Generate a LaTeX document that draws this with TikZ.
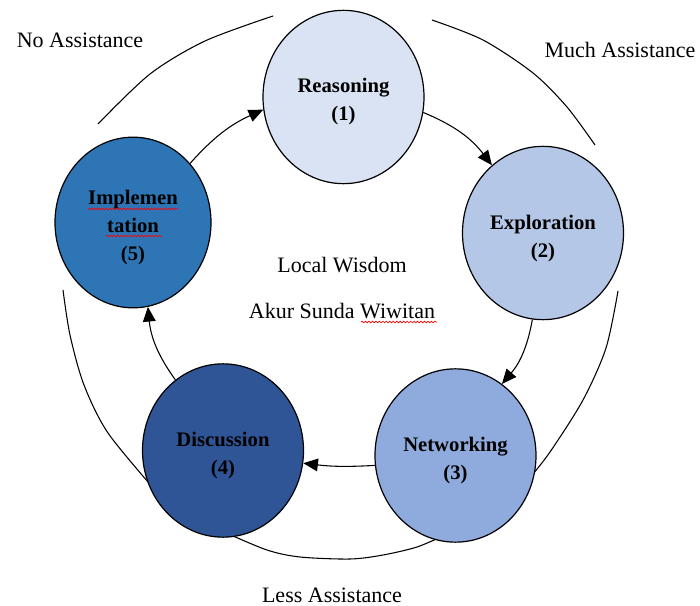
\documentclass[tikz,border=0pt]{standalone}
\usepackage{fontspec}
\setmainfont{Liberation Serif}
\usetikzlibrary{shapes.geometric,arrows.meta,decorations.pathmorphing}
\definecolor{cReas}{HTML}{DAE3F3}
\definecolor{cExpl}{HTML}{B4C7E7}
\definecolor{cNetw}{HTML}{8FAADC}
\definecolor{cDisc}{HTML}{2F5597}
\definecolor{cImpl}{HTML}{2E75B6}
\begin{document}
\begin{tikzpicture}[x=0.75pt,y=-0.75pt,
  stage/.style={ellipse, draw=black, line width=0.9pt, minimum width=120.75pt,
    minimum height=130pt, inner sep=0pt},
  stagetext/.style={inner sep=0pt, align=center,
    font=\fontsize{15.5}{21}\selectfont\bfseries},
  lbl/.style={font=\fontsize{16.5}{20}\selectfont, inner sep=0pt},
  ring/.style={line width=0.8pt},
  flow/.style={line width=0.8pt, -{Triangle[length=11pt,width=9.5pt]}},
  squig/.style={red, line width=0.5pt, decorate,
    decoration={snake, amplitude=0.6pt, segment length=2.6pt}}]
\useasboundingbox (0,0) rectangle (700,606);

% outer ring arcs
\draw[ring] plot[smooth] coordinates {(98,124) (150,74) (205,41) (273,16)};
\draw[ring] plot[smooth] coordinates {(432,20) (483,40) (533,73) (567,107) (595,145)};
\draw[ring] plot[smooth] coordinates {(618,291) (606,348) (583,400) (550,452) (528,480)};
\draw[ring] plot[smooth] coordinates {(63,290) (70,335) (84,385) (108,433) (155,490)};
\draw[ring] plot[smooth] coordinates {(224,532) (267,550) (300,557) (350,559) (383,555) (417,547) (445,535)};

% stages
\node[stage, fill=cReas] (reas) at (343.5,97) {};
\node[stage, fill=cExpl] (expl) at (543,233) {};
\node[stage, fill=cNetw] (netw) at (455.5,455.5) {};
\node[stage, fill=cDisc] (disc) at (223,450.5) {};
\node[stage, fill=cImpl, minimum width=117pt, minimum height=128pt] (impl) at (133,222.5) {};

\node[stagetext] (reast) at ([yshift=-3.4pt]reas.center) {Reasoning\\(1)};
\node[stagetext] (explt) at ([yshift=-3.8pt]expl.center) {Exploration\\(2)};
\node[stagetext] (netwt) at ([yshift=-3.4pt]netw.center) {Networking\\(3)};
\node[stagetext] (disct) at ([yshift=-3.4pt]disc.center) {Discussion\\(4)};
\node[stagetext] (implt) at ([yshift=-3.6pt]impl.center) {Implemen\\tation\\(5)};

% flow arrows
\draw[flow] (reas.-11) to[bend left=15] (expl.127);
\draw[flow] (expl.-97) to[bend left=15] (netw.57);
\draw[flow] (netw.-173) to[bend left=5] (disc.-9);
\draw[flow] (disc.124) to[bend left=15] (impl.-80);
\draw[flow] (impl.46) to[bend left=12] (reas.189);

% labels
\node[lbl] (noa) at (80,40) {No Assistance};
\node[lbl] (mucha) at (620,50) {Much Assistance};
\node[lbl] (lessa) at (332,595) {Less Assistance};
\node[lbl] (local) at (342,265) {Local Wisdom};
\node[lbl] (akur) at (342,311) {Akur Sunda Wiwitan};

% spell-check squiggles
\draw[squig] ([shift={(-45,-13.5)}]impl.center) -- ([shift={(45,-13.5)}]impl.center);
\draw[squig] ([shift={(-27,13.5)}]impl.center) -- ([shift={(29,13.5)}]impl.center);
\draw[squig] ([shift={(19,11)}]akur.center) -- ([shift={(95,11)}]akur.center);
\end{tikzpicture}
\end{document}
